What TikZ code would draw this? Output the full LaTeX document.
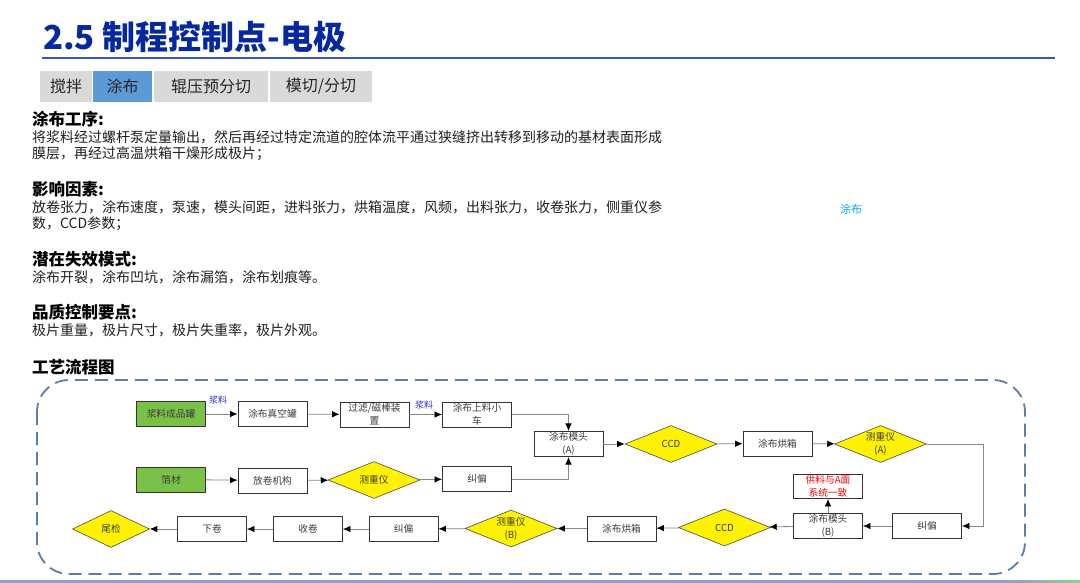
\documentclass[tikz,border=0pt]{standalone}
\usepackage{fontspec}
\setmainfont{Noto Sans CJK SC}
\usetikzlibrary{shapes.geometric,arrows.meta,calc}
\definecolor{titleblue}{RGB}{5,40,160}
\definecolor{lineblue}{RGB}{55,85,195}
\definecolor{tabgray}{RGB}{217,217,217}
\definecolor{tabblue}{RGB}{91,155,213}
\definecolor{boxgreen}{RGB}{122,193,72}
\definecolor{dashblue}{RGB}{90,126,166}
\definecolor{labelblue}{RGB}{40,40,235}
\definecolor{lightblue}{RGB}{0,170,235}
\definecolor{conngray}{RGB}{135,135,135}
\definecolor{txtgray}{RGB}{60,60,60}
\definecolor{bottomblue}{RGB}{140,160,205}
\definecolor{bottomgreen}{RGB}{140,210,140}
\begin{document}
\begin{tikzpicture}[x=1pt,y=-1pt,
 tab/.style={fill=tabgray, minimum height=31pt, inner sep=0pt, font=\fontsize{16}{16}\selectfont, text=black!85},
 box/.style={draw=black!80, line width=0.9pt, fill=white, minimum width=69pt, minimum height=25pt, inner sep=1pt, align=center, font=\fontsize{9.7}{13}\selectfont, text=txtgray},
 gbox/.style={box, fill=boxgreen},
 dia/.style={diamond, aspect=2.5, draw=black!70, line width=0.6pt, fill=yellow, minimum width=92pt, minimum height=37pt, inner sep=0pt, align=center, font=\fontsize{9.7}{13}\selectfont, text=txtgray},
 conn/.style={draw=conngray, line width=0.8pt, -{Latex[black,length=7.5pt,width=6.5pt]}},
 body/.style={anchor=west, inner sep=0pt, font=\fontsize{14}{17}\selectfont, text=black!88},
 head/.style={anchor=west, inner sep=0pt, font=\fontsize{16.5}{18}\selectfont\bfseries, text=black},
 lbl/.style={font=\fontsize{9}{10}\selectfont, text=labelblue, inner sep=0pt},
]
\useasboundingbox (0,0) rectangle (1080,583);
\fill[white] (0,0) rectangle (1080,583);

% title
\node[anchor=west, inner sep=0pt, font=\fontsize{33}{36}\selectfont\bfseries, text=titleblue] (title) at (43,37) {2.5 制程控制点-电极};
\draw[lineblue, line width=1.8pt] (42,58) -- (1055,58);

% tabs
\node[tab, minimum width=52pt] (t1) at (66,86.5) {搅拌};
\node[tab, minimum width=59pt, fill=tabblue] (t2) at (122.5,86.5) {涂布};
\node[tab, minimum width=114pt] (t3) at (211,86.5) {辊压预分切};
\node[tab, minimum width=102pt] (t4) at (321,86.5) {模切/分切};

% text
\node[head] (h1) at (32,119) {涂布工序:};
\node[body] (b1) at (32,137) {将浆料经过螺杆泵定量输出，然后再经过特定流道的腔体流平通过狭缝挤出转移到移动的基材表面形成};
\node[body] (b2) at (32,154) {膜层，再经过高温烘箱干燥形成极片；};
\node[head] (h2) at (32,189) {影响因素:};
\node[body] (b3) at (32,207) {放卷张力，涂布速度，泵速，模头间距，进料张力，烘箱温度，风频，出料张力，收卷张力，侧重仪参};
\node[body] (b4) at (32,224) {数，CCD参数；};
\node[head] (h3) at (32,259) {潜在失效模式:};
\node[body] (b5) at (32,277) {涂布开裂，涂布凹坑，涂布漏箔，涂布划痕等。};
\node[head] (h4) at (32,312) {品质控制要点:};
\node[body] (b6) at (32,330) {极片重量，极片尺寸，极片失重率，极片外观。};
\node[head] (h5) at (32,367) {工艺流程图};
\node[font=\fontsize{11}{12}\selectfont, text=lightblue, inner sep=0pt] (tb) at (851,209) {涂布};

% dashed frame
\draw[dashblue, line width=1.8pt, dash pattern=on 13pt off 7pt, rounded corners=32pt] (37,380) rectangle (1025,574);

% nodes
\node[gbox] (jl) at (171,414) {浆料成品罐};
\node[box] (zk) at (272.5,414) {涂布真空罐};
\node[box] (gl) at (374.5,414.5) {过滤/磁棒装\\置};
\node[box] (sl) at (477,414.5) {涂布上料小\\车};
\node[box] (mA) at (568.5,444) {涂布模头\\(A)};
\node[dia] (ccdA) at (671,444) {CCD};
\node[box] (hxA) at (777.5,443.5) {涂布烘箱};
\node[dia] (czA) at (880.5,444) {测重仪\\(A)};
\node[gbox] (bm) at (171,479.5) {箔材};
\node[box] (fj) at (272.5,480.5) {放卷机构};
\node[dia] (cz1) at (374,480) {测重仪};
\node[box] (jx1) at (477,479) {纠偏};
\node[box, minimum height=24pt, text=red] (gy) at (828,486.5) {供料与A面\\系统一致};
\node[box] (mB) at (828,526) {涂布模头\\(B)};
\node[box] (jx2) at (927,526) {纠偏};
\node[dia] (ccdB) at (724.5,527.5) {CCD};
\node[box] (hxB) at (621.5,528.5) {涂布烘箱};
\node[dia] (czB) at (511,528.5) {测重仪\\(B)};
\node[box] (jx3) at (403.5,529) {纠偏};
\node[box] (sj) at (308,529) {收卷};
\node[box] (xj) at (212,529) {下卷};
\node[dia, minimum width=77pt] (wj) at (111,529) {尾检};
\coordinate (rc) at (983,444);

% labels
\node[lbl] (l1) at (218,400) {浆料};
\node[lbl] (l2) at (424,405) {浆料};

% connectors
\draw[conn] (jl) -- (zk);
\draw[conn] (zk) -- (gl);
\draw[conn] (gl) -- (sl);
\draw[conn] (sl.east) -| (mA.north);
\draw[conn] (bm) -- (fj);
\draw[conn] (fj) -- (cz1);
\draw[conn] (cz1) -- (jx1);
\draw[conn] (jx1.east) -| (mA.south);
\draw[conn] (mA) -- (ccdA);
\draw[conn] (ccdA) -- (hxA);
\draw[conn] (hxA) -- (czA);
\draw[conn] (czA.east) -- (rc) |- (jx2.east);
\draw[conn] (jx2) -- (mB);
\draw[conn] (mB) -- (gy);
\draw[conn] (mB) -- (ccdB);
\draw[conn] (ccdB) -- (hxB);
\draw[conn] (hxB) -- (czB);
\draw[conn] (czB) -- (jx3);
\draw[conn] (jx3) -- (sj);
\draw[conn] (sj) -- (xj);
\draw[conn] (xj) -- (wj);

% bottom line
\fill[bottomblue] (0,580) rectangle (1005,582.5);
\fill[left color=bottomblue, right color=bottomgreen] (1005,580) rectangle (1080,582.5);
\end{tikzpicture}
\end{document}
